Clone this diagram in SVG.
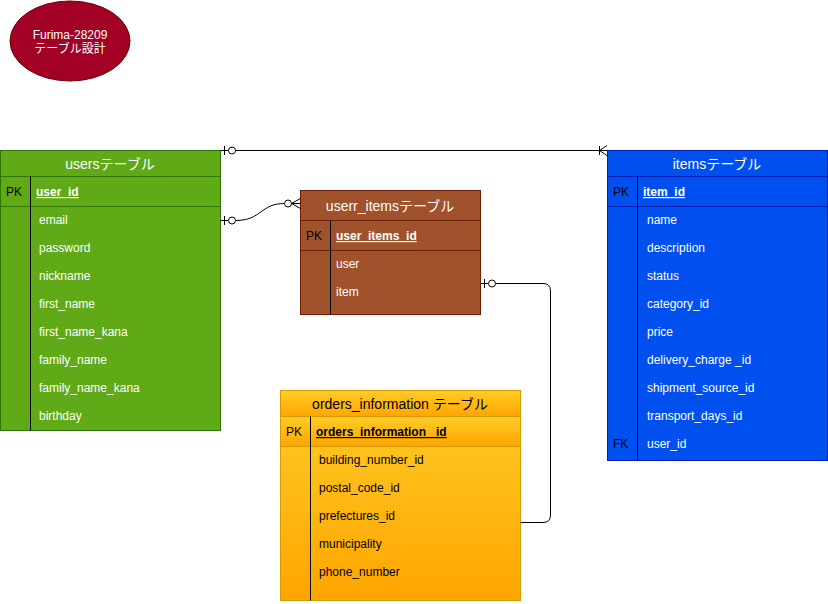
<svg xmlns="http://www.w3.org/2000/svg" width="828" height="604" viewBox="0 0 828 604">
<defs>
<linearGradient id="og" x1="0" y1="0" x2="0" y2="1"><stop offset="0" stop-color="#ffcd28"/><stop offset="1" stop-color="#ffa500"/></linearGradient>
</defs>
<style>
text{font-family:"Liberation Sans",Arial,"Noto Sans CJK JP",sans-serif}
.h{font-size:14px;text-anchor:middle}
.r{font-size:12px}
.w{fill:#ffffff}
.k{fill:#000000}
.pk{font-weight:bold;text-decoration:underline}
.ln{fill:none;stroke:#000;stroke-width:1}
.dv{stroke:#000;stroke-width:1}
</style>
<rect width="828" height="604" fill="#ffffff"/>

<g id="title">
<ellipse cx="70" cy="41" rx="60" ry="40" fill="#a20025" stroke="#6F0000"/>
<text x="70" y="39" class="r w" text-anchor="middle">Furima-28209</text>
<text x="70" y="53" class="r w" text-anchor="middle">テーブル設計</text>
</g>

<g id="users">
<rect x="0.5" y="150.5" width="220" height="280" fill="#60a917" stroke="#2D7600"/>
<line x1="0.5" y1="176.5" x2="220.5" y2="176.5" stroke="#2D7600"/>
<line x1="0.5" y1="206.5" x2="220.5" y2="206.5" stroke="#2D7600"/>
<line x1="30.5" y1="176.5" x2="30.5" y2="430.5" class="dv"/>
<text x="110" y="169" class="h w">usersテーブル</text>
<text x="6" y="196" class="r k">PK</text>
<text x="36" y="196" class="r w pk">user_id</text>
<text x="39" y="224" class="r w">email</text>
<text x="39" y="252" class="r w">password</text>
<text x="39" y="280" class="r w">nickname</text>
<text x="39" y="308" class="r w">first_name</text>
<text x="39" y="336" class="r w">first_name_kana</text>
<text x="39" y="364" class="r w">family_name</text>
<text x="39" y="392" class="r w">family_name_kana</text>
<text x="39" y="420" class="r w">birthday</text>
</g>

<g id="userr_items">
<rect x="300.5" y="190.5" width="180" height="124" fill="#a0522d" stroke="#6D1F00"/>
<line x1="300.5" y1="220.5" x2="480.5" y2="220.5" stroke="#6D1F00"/>
<line x1="300.5" y1="250.5" x2="480.5" y2="250.5" stroke="#6D1F00"/>
<line x1="330.5" y1="220.5" x2="330.5" y2="314.5" class="dv"/>
<text x="390" y="211" class="h w">userr_itemsテーブル</text>
<text x="306" y="240" class="r k">PK</text>
<text x="336" y="240" class="r w pk">user_items_id</text>
<text x="336" y="268" class="r w">user</text>
<text x="336" y="296" class="r w">item</text>
</g>

<g id="items">
<rect x="607.5" y="150.5" width="220" height="310" fill="#0050ef" stroke="#001DBC"/>
<line x1="607.5" y1="176.5" x2="827.5" y2="176.5" stroke="#001DBC"/>
<line x1="607.5" y1="206.5" x2="827.5" y2="206.5" stroke="#001DBC"/>
<line x1="637.5" y1="176.5" x2="637.5" y2="460.5" class="dv"/>
<text x="717" y="169" class="h w">itemsテーブル</text>
<text x="613" y="196" class="r k">PK</text>
<text x="643" y="196" class="r w pk">item_id</text>
<text x="647" y="224" class="r w">name</text>
<text x="647" y="252" class="r w">description</text>
<text x="647" y="280" class="r w">status</text>
<text x="647" y="308" class="r w">category_id</text>
<text x="647" y="336" class="r w">price</text>
<text x="647" y="364" class="r w">delivery_charge _id</text>
<text x="647" y="392" class="r w">shipment_source_id</text>
<text x="647" y="420" class="r w">transport_days_id</text>
<text x="613" y="448" class="r k">FK</text>
<text x="647" y="448" class="r w">user_id</text>
</g>

<g id="orders_information">
<rect x="280.5" y="390.5" width="240" height="210" fill="url(#og)" stroke="#d79b00"/>
<rect x="280.5" y="390.5" width="240" height="26" fill="url(#og)" stroke="#d79b00"/>
<rect x="280.5" y="416.5" width="240" height="30" fill="url(#og)" stroke="#d79b00"/>
<line x1="310.5" y1="416.5" x2="310.5" y2="600.5" class="dv"/>
<text x="400" y="409" class="h k">orders_information テーブル</text>
<text x="286" y="436" class="r k">PK</text>
<text x="316" y="436" class="r k pk">orders_information _id</text>
<text x="319" y="464" class="r k">building_number_id</text>
<text x="319" y="492" class="r k">postal_code_id</text>
<text x="319" y="520" class="r k">prefectures_id</text>
<text x="319" y="548" class="r k">municipality</text>
<text x="319" y="576" class="r k">phone_number</text>
</g>

<g id="connectors">
<!-- users to items -->
<path class="ln" d="M220.5 150.5 H607"/>
<line class="ln" x1="224.5" y1="146" x2="224.5" y2="155"/>
<circle cx="232" cy="150.5" r="3.5" fill="#fff" stroke="#000"/>
<line class="ln" x1="599.5" y1="146" x2="599.5" y2="155"/>
<path class="ln" d="M607 145.5 L599.5 150.5 L607 155.5"/>
<!-- users email to userr_items -->
<path class="ln" d="M220.5 220.5 H228.5"/>
<path class="ln" d="M235.5 220.5 C262 220.5 260 203.5 284.5 203.5"/>
<line class="ln" x1="224.5" y1="216" x2="224.5" y2="225"/>
<circle cx="232" cy="220.5" r="3.5" fill="#fff" stroke="#000"/>
<circle cx="288" cy="203.5" r="3.5" fill="#fff" stroke="#000"/>
<path class="ln" d="M300.5 198.5 L291.5 203.5 L300.5 208.5 M291.5 203.5 H300.5"/>
<!-- userr_items item to orders_information -->
<path class="ln" d="M480.5 283.5 H488.5 M495.5 283.5 H543 Q550.5 283.5 550.5 291 V515 Q550.5 522.5 543 522.5 H520.5"/>
<line class="ln" x1="484.5" y1="279" x2="484.5" y2="288"/>
<circle cx="492" cy="283.5" r="3.5" fill="#fff" stroke="#000"/>
</g>
</svg>
